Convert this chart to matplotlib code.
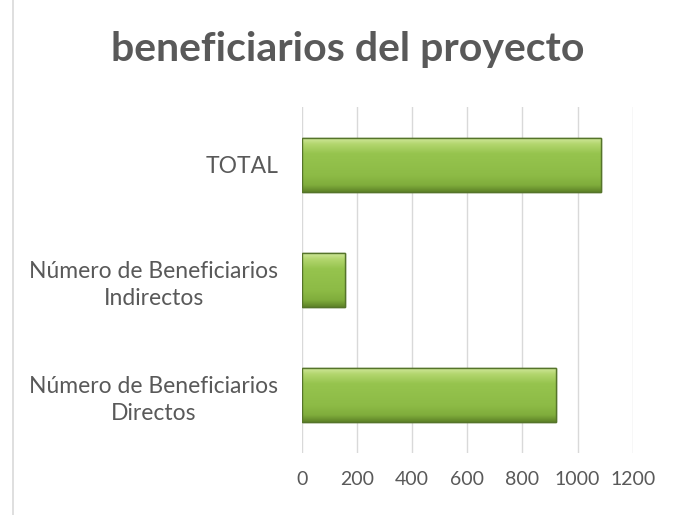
import matplotlib
matplotlib.use("Agg")
import matplotlib.pyplot as plt
import numpy as np
from matplotlib.colors import LinearSegmentedColormap

categorias = ["Número de Beneficiarios\nDirectos",
              "Número de Beneficiarios\nIndirectos",
              "TOTAL"]
valores = [922, 158, 1084]
ticks_x = [0, 200, 400, 600, 800, 1000, 1200]

gris = "#595959"
plt.rcParams["font.family"] = ["Lato", "DejaVu Sans"]

fig = plt.figure(figsize=(6.77, 5.15), dpi=100)
ax = fig.add_axes([301.7 / 677, 1 - 453 / 515, 331 / 677, 346 / 515])

pos = np.arange(len(categorias))
bars = ax.barh(pos, valores, height=0.47, color="#8FBD48",
               edgecolor="#55742A", linewidth=1.0, zorder=3)

# degradado vertical tipo bisel de Excel
verde = LinearSegmentedColormap.from_list(
    "verde", [(0.0, "#5F8428"), (0.12, "#80AD3C"), (0.3, "#8DBB46"),
              (0.7, "#96C44E"), (0.88, "#B3D66E"), (1.0, "#D3EAA0")])
grad = np.linspace(0, 1, 64).reshape(-1, 1)
for b in bars:
    x0, y0 = b.get_x(), b.get_y()
    w, h = b.get_width(), b.get_height()
    im = ax.imshow(grad, cmap=verde, aspect="auto", origin="lower",
                   extent=[x0, x0 + w, y0, y0 + h], zorder=3.5,
                   interpolation="bicubic")
    im.set_clip_path(b)
    ax.barh(b.get_y() + h / 2, w, height=h, left=x0, color="none",
            edgecolor="#55742A", linewidth=1.0, zorder=4)

ax.set_xlim(0, 1200)
ax.set_ylim(-0.5, 2.5)
ax.set_xticks(ticks_x)
ax.set_yticks(pos)
ax.set_yticklabels(categorias, fontsize=16.5, color=gris,
                   multialignment="center", linespacing=1.35)
ax.tick_params(axis="x", labelsize=14, colors=gris, length=0, pad=13)
ax.tick_params(axis="y", length=0, pad=17)
ax.grid(axis="x", color="#D9D9D9", linewidth=1.0, zorder=0)
for s in ax.spines.values():
    s.set_visible(False)

fig.text(348 / 677, 1 - 50 / 515, "beneficiarios del proyecto",
         ha="center", va="center", fontsize=29.5, fontweight="bold", color=gris)

# borde izquierdo del gráfico
fig.add_artist(plt.Line2D([13 / 677, 13 / 677], [0, 1], color="#D9D9D9",
                          linewidth=1.2))

fig.savefig("out.png", dpi=100)
